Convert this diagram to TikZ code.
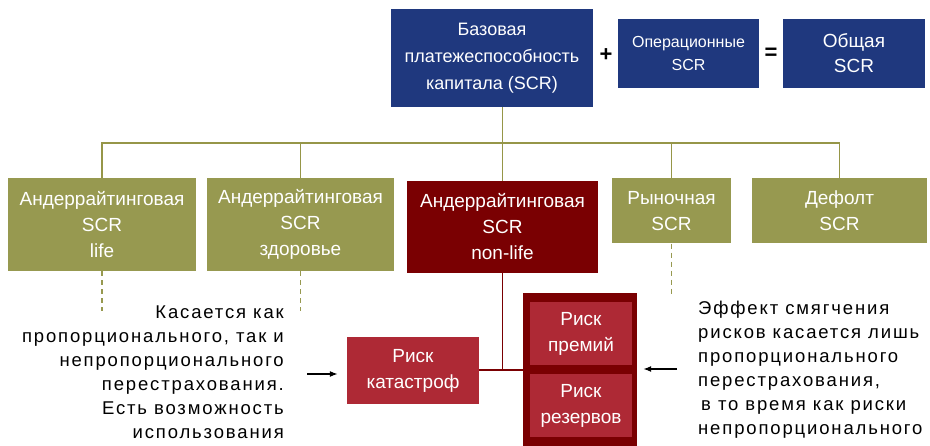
\documentclass[tikz,border=0pt]{standalone}
\usepackage{fontspec}
\setmainfont{Liberation Sans}
\newfontfamily\notefont[LetterSpace=10]{Liberation Sans}
\usetikzlibrary{positioning, arrows.meta, calc}
\definecolor{scrblue}{RGB}{31, 56, 126}
\definecolor{olive1}{RGB}{151, 153, 80}
\definecolor{nonlifered}{RGB}{122, 0, 2}
\definecolor{riskred}{RGB}{174, 41, 53}
\definecolor{treeline}{RGB}{150, 150, 72}

\begin{document}
\begin{tikzpicture}[x=1pt, y=-1pt,
  blk/.style={fill=#1, text=white, align=center, inner sep=0pt,
    font=\fontsize{19}{26}\selectfont},
  tree/.style={draw=treeline, line width=1.8pt},
  redline/.style={draw=nonlifered, line width=1.8pt},
  dashline/.style={draw=olive1, line width=1.6pt, dash pattern=on 5pt off 4pt},
  arr/.style={draw=black, line width=1.3pt, -{Latex[length=8pt, width=6pt]}},
  note/.style={inner sep=0pt, font=\notefont\fontsize{18.5}{24}\selectfont}]
  \useasboundingbox (0,0) rectangle (930,446);

  % top row
  \node[blk=scrblue, minimum width=202pt, minimum height=98pt,
    font=\fontsize{18}{27}\selectfont] (base) at (492,58)
    {Базовая\\платежеспособность\\капитала (SCR)};
  \node[blk=scrblue, minimum width=141pt, minimum height=69pt,
    font=\fontsize{16}{23}\selectfont] (oper) at (688.5,53.5)
    {Операционные\\SCR};
  \node[blk=scrblue, minimum width=142pt, minimum height=69pt,
    font=\fontsize{19}{25}\selectfont] (total) at (854,53.5)
    {Общая\\SCR};
  \node[font=\fontsize{22}{22}\selectfont\bfseries] (plus) at (606,55) {+};
  \node[font=\fontsize{22}{22}\selectfont\bfseries] (eq) at (771,54) {=};

  % SCR modules
  \node[blk=olive1, minimum width=188pt, minimum height=93pt] (life) at (102,224.5)
    {Андеррайтинговая\\SCR\\life};
  \node[blk=olive1, minimum width=187pt, minimum height=93pt] (health) at (300.5,224.5)
    {Андеррайтинговая\\SCR\\здоровье};
  \node[blk=nonlifered, minimum width=191pt, minimum height=92pt] (nonlife) at (502.5,227)
    {Андеррайтинговая\\SCR\\non-life};
  \node[blk=olive1, minimum width=119pt, minimum height=65pt] (market) at (671.5,211)
    {Рыночная\\SCR};
  \node[blk=olive1, minimum width=175pt, minimum height=65pt] (default) at (839.5,211)
    {Дефолт\\SCR};
  \path (market.north) ++(0,2.5) coordinate (mtop);

  % tree
  \coordinate (bar) at (0,143);
  \draw[tree] (base.south -| nonlife.north) -- (nonlife.north);
  \draw[tree] (life.north) -- (life.north |- bar) -| (default.north);
  \draw[tree] (health.north) -- (health.north |- bar);
  \draw[tree] (market.north) -- (market.north |- bar);

  % dashed leads
  \draw[dashline] (life.south) -- ++(0,40);
  \draw[dashline] (health.south) -- ++(0,40);
  \draw[dashline] (market.south) -- ++(0,51);

  % non-life risks
  \node[blk=riskred, minimum width=132pt, minimum height=67pt] (cat) at (413,370.5)
    {Риск\\катастроф};
  \node[fill=nonlifered, inner sep=0pt, minimum width=114pt, minimum height=154pt] (outer) at (580,370) {};
  \node[blk=riskred, minimum width=102pt, minimum height=63pt] (prem) at (581,333.5)
    {Риск\\премий};
  \node[blk=riskred, minimum width=102pt, minimum height=63pt] (res) at (581,405.5)
    {Риск\\резервов};
  \draw[redline] (nonlife.south) -- (nonlife.south |- outer.west);
  \draw[redline] (cat.east |- outer.west) -- (outer.west);

  % notes
  \node[note, align=right, anchor=east] (leftnote) at (284,372)
    {Касается как\\пропорционального, так и\\непропорционального\\перестрахования.\\Есть возможность\\использования};
  \node[note, align=left, anchor=west] (rightnote) at (698,370)
    {Эффект смягчения\\рисков касается лишь\\пропорционального\\перестрахования,\\\hspace{3pt}в то время как риски\\непропорционального};
  \coordinate (inL) at (307,374);
  \coordinate (inR) at (677,369);
  \draw[arr, shorten >=9pt] (inL) -- (inL -| cat.west);
  \draw[arr, shorten >=6pt] (inR) -- (inR -| outer.east);
\end{tikzpicture}
\end{document}
